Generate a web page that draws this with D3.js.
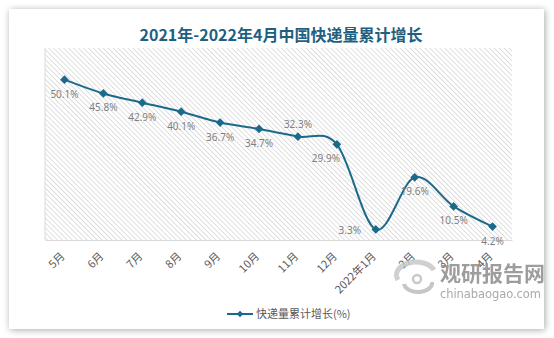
<!DOCTYPE html>
<html><head><meta charset="utf-8">
<script src="https://cdn.jsdelivr.net/npm/d3@7"></script>
<style>
html,body{margin:0;padding:0;background:#fff;}
svg{display:block;}
</style></head>
<body>
<svg id="c" width="554" height="338"></svg>
<script>
const title = "2021年-2022年4月中国快递量累计增长";
const categories = ["5月","6月","7月","8月","9月","10月","11月","12月","2022年1月","2月","3月","4月"];
const growth = [50.1,45.8,42.9,40.1,36.7,34.7,32.3,29.9,3.3,19.6,10.5,4.2];
const seriesName = "快递量累计增长(%)";
const yDomain = [0,60];

const svg = d3.select("#c");
const defs = svg.append("defs");
const flt = defs.append("filter").attr("id","sh").attr("x","-5%").attr("y","-5%").attr("width","110%").attr("height","110%");
flt.append("feGaussianBlur").attr("in","SourceAlpha").attr("stdDeviation",3.5);
flt.append("feOffset").attr("dx",1).attr("dy",1).attr("result","b");
flt.append("feComponentTransfer").append("feFuncA").attr("type","linear").attr("slope",0.35);
const m = flt.append("feMerge"); m.append("feMergeNode"); m.append("feMergeNode").attr("in","SourceGraphic");

const pat = defs.append("pattern").attr("id","hatch").attr("patternUnits","userSpaceOnUse")
  .attr("width",3.5).attr("height",3.5).attr("patternTransform","rotate(-45)");
pat.append("rect").attr("width",3.5).attr("height",3.5).attr("fill","#fff");
pat.append("line").attr("x1",0).attr("y1",0).attr("x2",0).attr("y2",3.5).attr("stroke","#d4d4d4").attr("stroke-width",1.5);

// card
svg.append("rect").attr("x",9).attr("y",9).attr("width",535).attr("height",320).attr("fill","#fff").attr("filter","url(#sh)");

svg.append("text").attr("x",281).attr("y",41).attr("text-anchor","middle")
  .attr("font-family","'Noto Sans CJK SC','Noto Sans',sans-serif").attr("font-weight","bold")
  .attr("font-size",16).attr("fill","#1f5f7f").text(title);

const plot = {l:45, r:512, t:48, b:240};
svg.append("rect").attr("x",plot.l).attr("y",plot.t).attr("width",plot.r-plot.l).attr("height",plot.b-plot.t)
  .attr("fill","url(#hatch)");
svg.append("line").attr("x1",plot.l).attr("x2",plot.l).attr("y1",plot.t).attr("y2",plot.b).attr("stroke","#d9d9d9");

const x = d3.scaleBand().domain(categories).range([plot.l, plot.r]);
const y = d3.scaleLinear().domain(yDomain).range([plot.b, plot.t]);

const xAxis = svg.append("g").attr("transform",`translate(0,${plot.b})`)
  .call(d3.axisBottom(x).tickSize(0).tickPadding(0));
xAxis.select(".domain").attr("stroke","#d9d9d9");
xAxis.selectAll(".tick text")
  .attr("font-family","'Noto Sans CJK SC','Noto Sans',sans-serif").attr("font-size",11).attr("fill","#595959")
  .attr("text-anchor","end").attr("dy",0).attr("y",0)
  .attr("transform","translate(1,17) rotate(-45)");

const color = "#1b6a8c";
const pts = categories.map((c,i)=>[x(c)+x.bandwidth()/2, y(growth[i])]);
svg.append("path").attr("d", d3.line().curve(d3.curveCardinal.tension(0))(pts))
  .attr("fill","none").attr("stroke",color).attr("stroke-width",2);

const diamond = d3.symbol().type(d3.symbolSquare).size(38);
svg.selectAll(".mk").data(pts).join("path").attr("class","mk")
  .attr("transform",d=>`translate(${d[0]},${d[1]}) rotate(45)`).attr("d",diamond()).attr("fill",color);

// label placement: default below; a few adjusted
const labelOffset = (i)=>{
  if (i===6) return [0,-9];
  if (i===7) return [-11,18];
  if (i===8) return [-26,5];
  return [0,18];
};
svg.selectAll(".lb").data(growth).join("text").attr("class","lb")
  .attr("x",(d,i)=>pts[i][0]+labelOffset(i)[0])
  .attr("y",(d,i)=>pts[i][1]+labelOffset(i)[1])
  .attr("text-anchor","middle")
  .attr("font-family","'Noto Sans','Open Sans',sans-serif").attr("font-size",10).attr("fill","#7f7f7f")
  .text(d=>d.toFixed(1)+"%");

// legend
const lg = svg.append("g");
lg.append("line").attr("x1",227).attr("x2",253).attr("y1",314).attr("y2",314).attr("stroke",color).attr("stroke-width",2);
lg.append("path").attr("transform","translate(240,314) rotate(45)").attr("d",d3.symbol().type(d3.symbolSquare).size(22)()).attr("fill",color);
lg.append("text").attr("x",256).attr("y",318).attr("font-family","'Noto Sans CJK SC',sans-serif")
  .attr("font-size",11).attr("fill","#595959").text(seriesName);

// watermark
const wm = svg.append("g").attr("opacity",0.85);
wm.append("path").attr("d","M398,280 A18,12 0 0 1 434,270").attr("fill","none").attr("stroke","#c8c8c8").attr("stroke-width",5);
wm.append("path").attr("d","M404,284 A14,9 0 0 0 432,282").attr("fill","none").attr("stroke","#bdbdbd").attr("stroke-width",4);
wm.append("circle").attr("cx",417).attr("cy",279).attr("r",4).attr("fill","none").attr("stroke","#c0c0c0").attr("stroke-width",2.5);
wm.append("text").attr("x",440).attr("y",281).attr("font-family","'Noto Sans CJK SC',sans-serif").attr("font-weight","bold")
  .attr("font-size",21).attr("fill","#8c8c8c").text("观研报告网");
wm.append("text").attr("x",440).attr("y",298).attr("font-family","'DejaVu Sans',sans-serif")
  .attr("font-size",11.5).attr("fill","#9a9a9a").attr("textLength",101).text("chinabaogao.com");
</script>
</body></html>
